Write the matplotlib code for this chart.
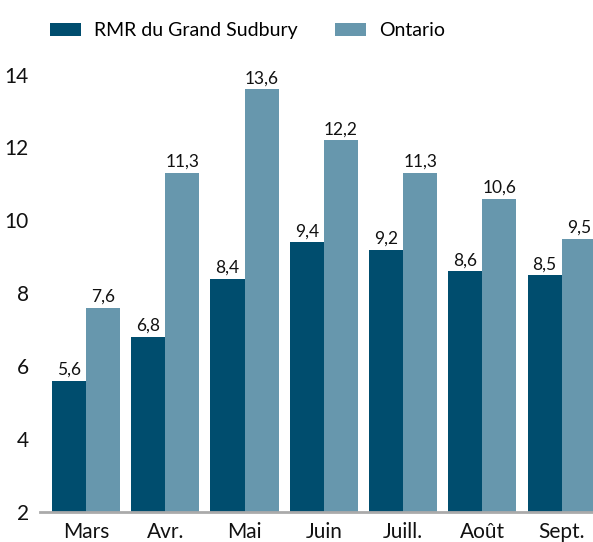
import matplotlib
matplotlib.use("Agg")
import matplotlib.pyplot as plt
import numpy as np

plt.rcParams['font.family'] = ['Lato', 'DejaVu Sans']

months = ["Mars", "Avr.", "Mai", "Juin", "Juill.", "Août", "Sept."]
sudbury = [5.6, 6.8, 8.4, 9.4, 9.2, 8.6, 8.5]
ontario = [7.6, 11.3, 13.6, 12.2, 11.3, 10.6, 9.5]
series_names = ["RMR du Grand Sudbury", "Ontario"]
yticks = [2, 4, 6, 8, 10, 12, 14]

dark = "#004d6e"
light = "#6797ad"

fig = plt.figure(figsize=(5.93, 5.42), dpi=100)
ax = fig.add_axes([40 / 593, 30 / 542, 553 / 593, 452 / 542])

x = np.arange(len(months))
w = 0.43
b1 = ax.bar(x - w / 2, np.array(sudbury) - 2, w, bottom=2, color=dark, label=series_names[0])
b2 = ax.bar(x + w / 2, np.array(ontario) - 2, w, bottom=2, color=light, label=series_names[1])

for xi, v in zip(x - w / 2, sudbury):
    ax.text(xi, v + 0.08, f"{v:.1f}".replace(".", ","), ha="center", va="bottom", fontsize=12.5, color="#111111")
for xi, v in zip(x + w / 2, ontario):
    ax.text(xi, v + 0.08, f"{v:.1f}".replace(".", ","), ha="center", va="bottom", fontsize=12.5, color="#111111")

ax.set_ylim(2, 14.4)
ax.set_xlim(-0.58, 6.395)
ax.set_yticks(yticks)
ax.set_yticklabels([str(t) for t in yticks], fontsize=15)
ax.set_xticks(x)
ax.set_xticklabels(months, fontsize=15)
ax.tick_params(axis="both", length=0, colors="#111111")
ax.tick_params(axis="y", pad=8)
ax.tick_params(axis="x", pad=7)
for s in ["top", "right", "left"]:
    ax.spines[s].set_visible(False)
ax.spines["bottom"].set_color("#aaaaaa")
ax.spines["bottom"].set_linewidth(2)

fig.legend(handles=[b1, b2], labels=series_names, loc="upper left", bbox_to_anchor=(32 / 593, 1 - 5 / 542),
           ncol=2, frameon=False, fontsize=14, handlelength=1.6, handleheight=0.6,
           columnspacing=1.9, handletextpad=0.7)

fig.savefig("out.png", dpi=100)
